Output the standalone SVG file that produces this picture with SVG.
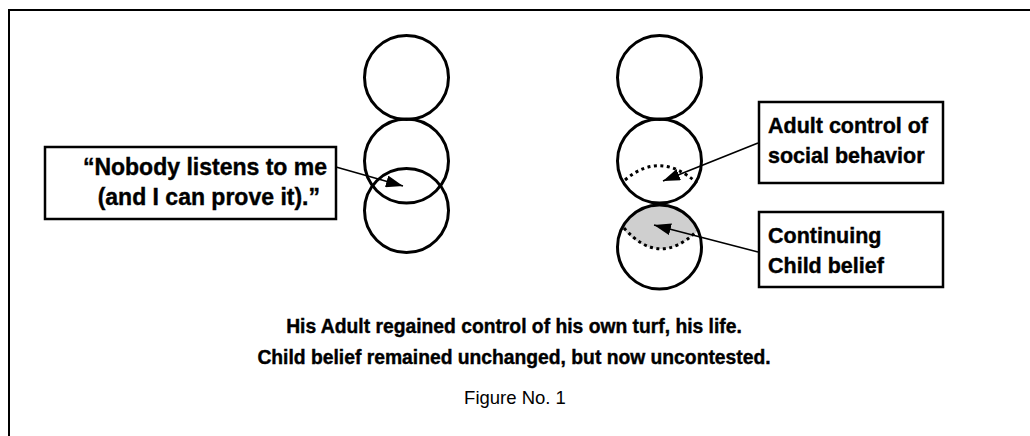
<svg xmlns="http://www.w3.org/2000/svg" width="1030" height="436" viewBox="0 0 1030 436">
<style>
.ring{fill:none;stroke:#000;stroke-width:3}
.box{fill:#fff;stroke:#000;stroke-width:2.5}
.lbl{font-family:"Liberation Sans",Arial,sans-serif;font-weight:bold;font-size:21.5px;fill:#000;stroke:#000;stroke-width:0.4}
.big{font-size:23px}
.cap{font-family:"Liberation Sans",Arial,sans-serif;font-weight:bold;font-size:19.3px;fill:#000;stroke:#000;stroke-width:0.4;text-anchor:middle}
.fig{font-family:"Liberation Sans",Arial,sans-serif;font-size:18.5px;fill:#000;text-anchor:middle}
.dot{fill:none;stroke:#000;stroke-width:3;stroke-dasharray:3 3.5}
.conn{stroke:#000;stroke-width:1.6;fill:none}
</style>
<defs>
<marker id="ah" markerUnits="userSpaceOnUse" markerWidth="18" markerHeight="12" refX="17" refY="6" orient="auto">
<path d="M0,0 L17,6 L0,12 z" fill="#000"/>
</marker>
</defs>
<rect x="9" y="10" width="1040" height="450" fill="#fff" stroke="#000" stroke-width="2"/>

<g id="left-stack">
<circle class="ring" cx="406.5" cy="77.5" r="42"/>
<circle class="ring" cx="406.5" cy="161" r="42"/>
<circle class="ring" cx="406.5" cy="210.5" r="42"/>
</g>

<g id="right-stack">
<circle class="ring" cx="659.5" cy="77.5" r="42"/>
<circle class="ring" cx="659.5" cy="161" r="42"/>
<path d="M622.5,229 A42,42 0 0 1 698,231 Q659,268 622.5,229 Z" fill="#cfcfcf"/>
<circle class="ring" cx="659.5" cy="247" r="42"/>
<path class="dot" d="M625,180 Q660,150 697,183"/>
<path class="dot" d="M624,228 Q659,268 697,231"/>
</g>

<g id="connectors">
<line class="conn" x1="336" y1="167" x2="403" y2="186" marker-end="url(#ah)"/>
<line class="conn" x1="758" y1="143" x2="663" y2="181" marker-end="url(#ah)"/>
<line class="conn" x1="758" y1="252" x2="654" y2="225" marker-end="url(#ah)"/>
</g>

<g id="box-nobody">
<rect class="box" x="45" y="147" width="291" height="72"/>
<text class="lbl big" x="327" y="175" text-anchor="end">“Nobody listens to me</text>
<text class="lbl big" x="320" y="205" text-anchor="end">(and I can prove it).”</text>
</g>

<g id="box-adult">
<rect class="box" x="759" y="102" width="184" height="81"/>
<text class="lbl" x="768" y="133">Adult control of</text>
<text class="lbl" x="768" y="163">social behavior</text>
</g>

<g id="box-child">
<rect class="box" x="759" y="212" width="184" height="75"/>
<text class="lbl" x="768" y="243">Continuing</text>
<text class="lbl" x="768" y="273">Child belief</text>
</g>

<g id="caption">
<text class="cap" x="514" y="333">His Adult regained control of his own turf, his life.</text>
<text class="cap" x="514" y="364">Child belief remained unchanged, but now uncontested.</text>
<text class="fig" x="515" y="404">Figure No. 1</text>
</g>
</svg>
